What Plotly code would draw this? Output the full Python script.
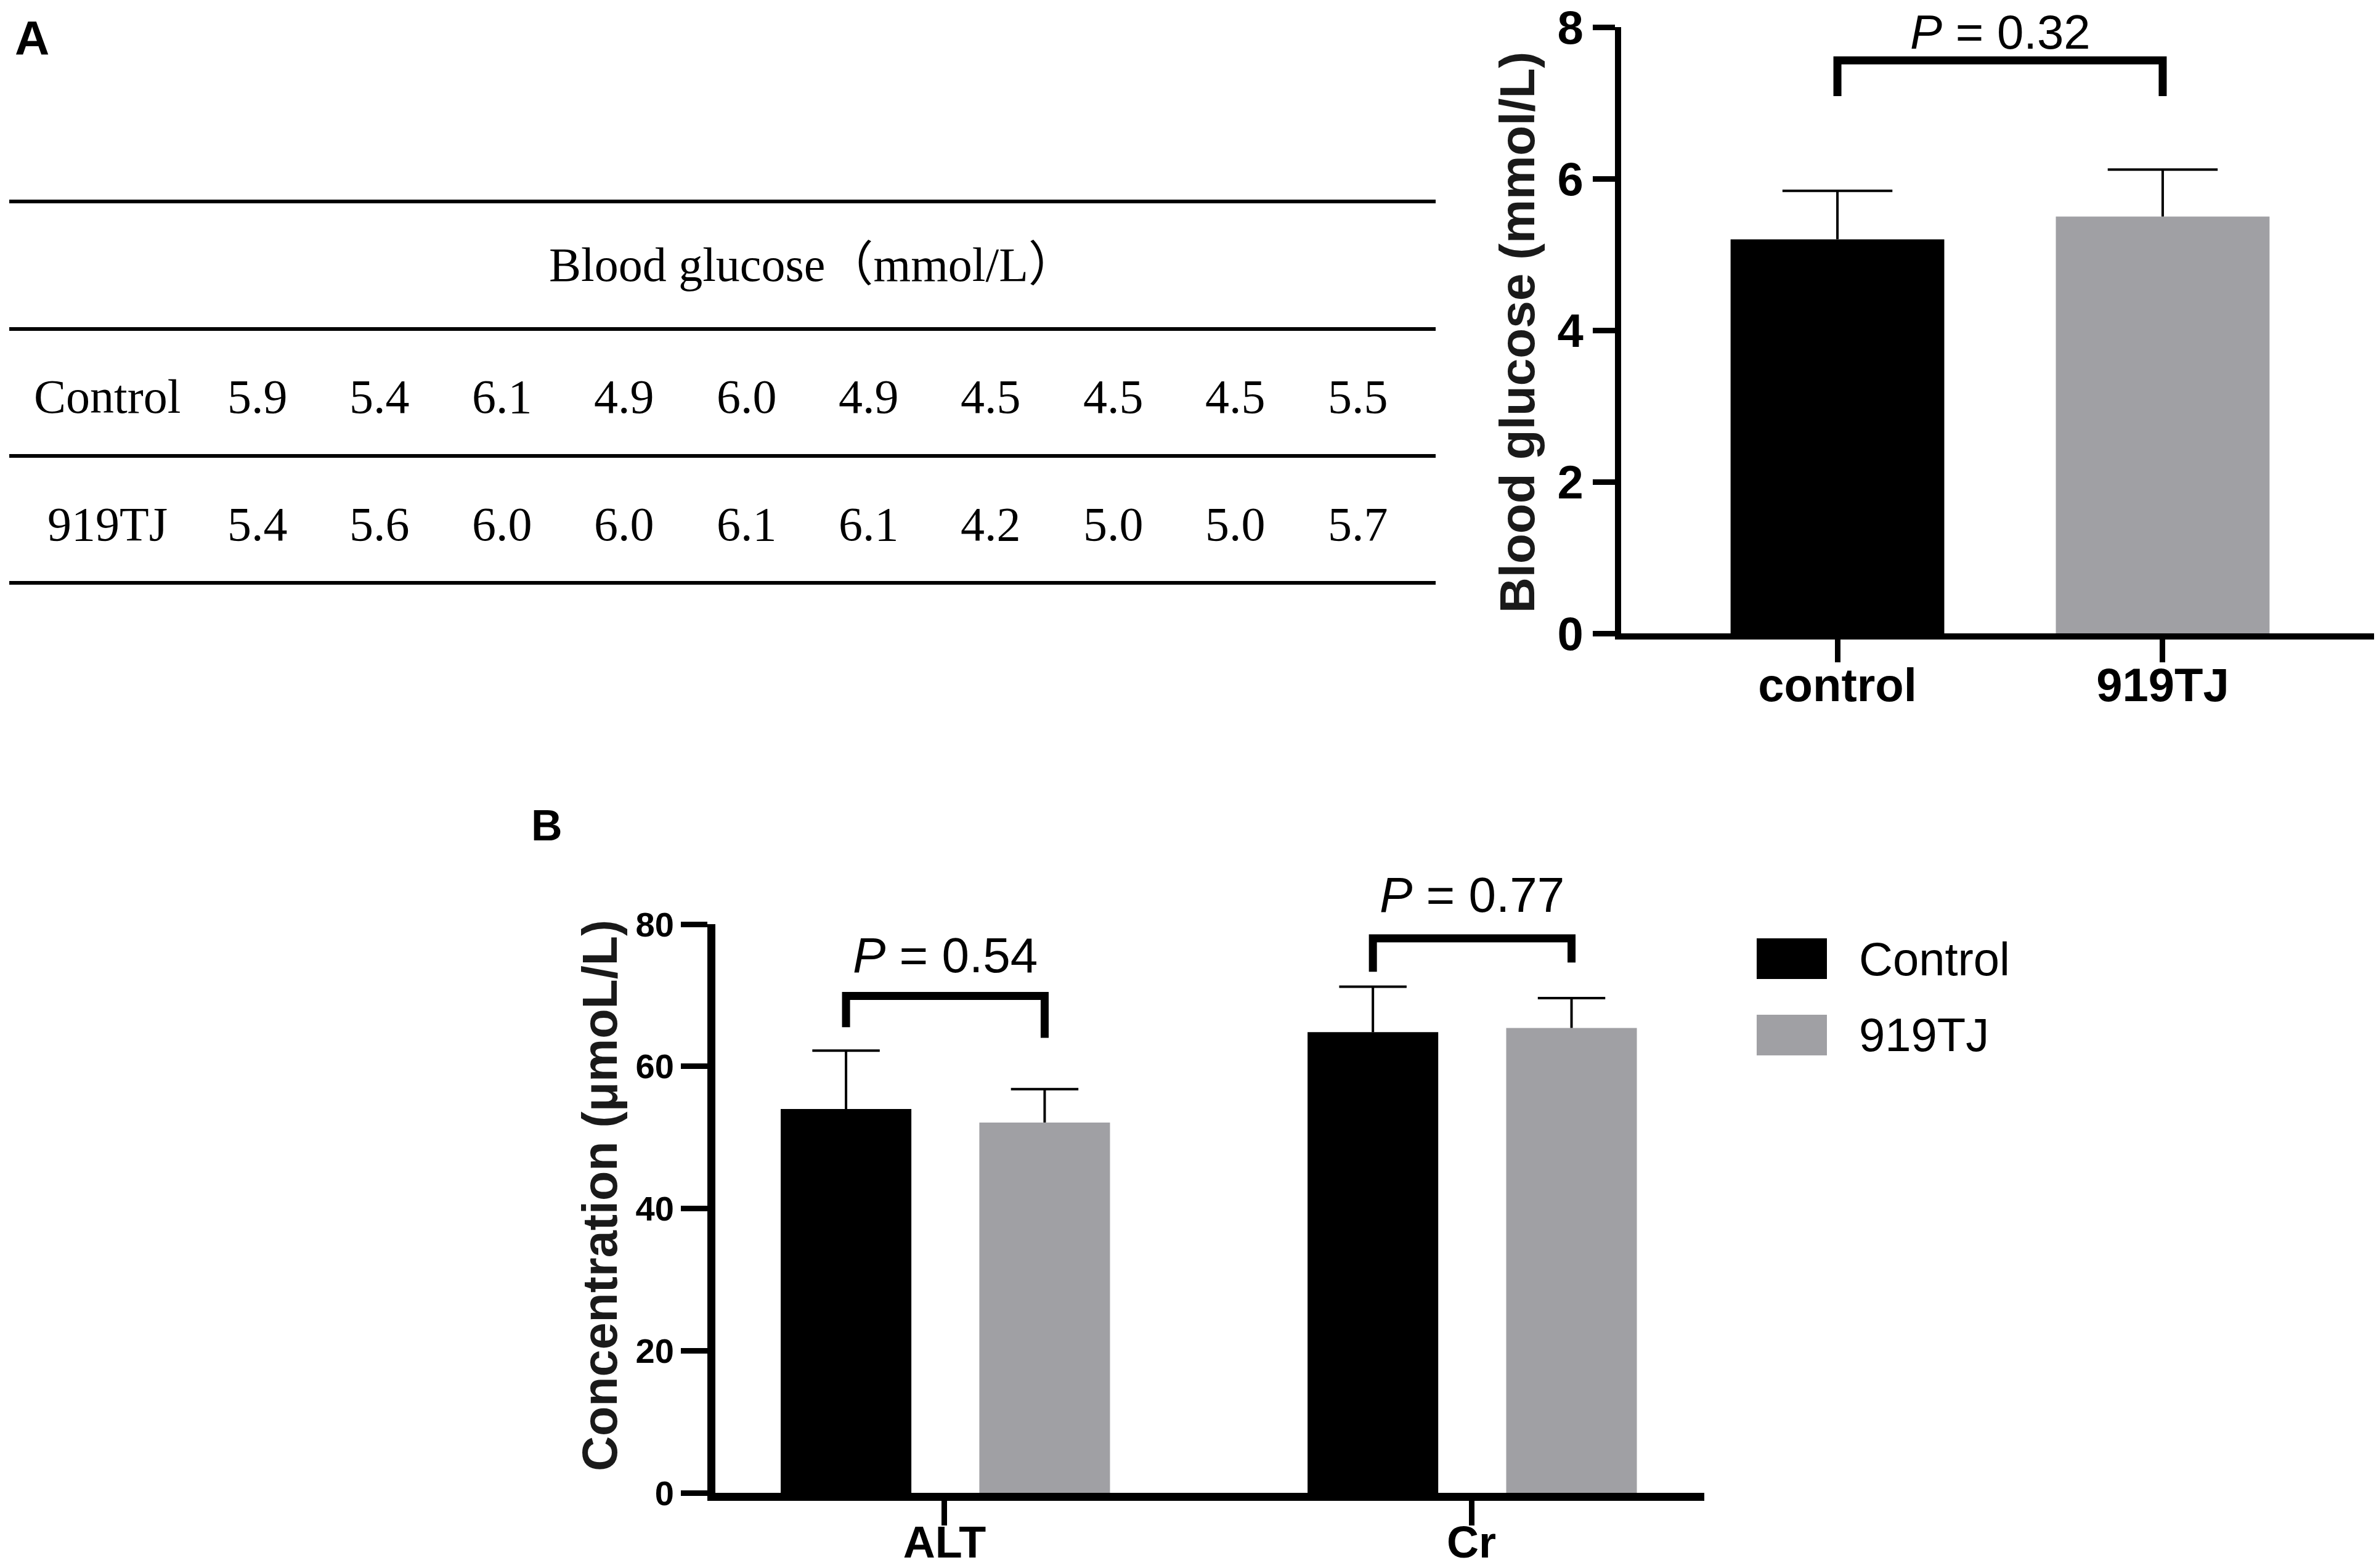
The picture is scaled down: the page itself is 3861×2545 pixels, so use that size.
import plotly.graph_objects as go

W, H = 3861, 2545

# panel A table
table_rows = ['Control', '919TJ']
control_glucose = [5.9, 5.4, 6.1, 4.9, 6.0, 4.9, 4.5, 4.5, 4.5, 5.5]
tj_glucose = [5.4, 5.6, 6.0, 6.0, 6.1, 6.1, 4.2, 5.0, 5.0, 5.7]
table_header = 'Blood glucose\uff08mmol/L\uff09'

# panel A bars
glucose_groups = ['control', '919TJ']
glucose_mean = [5.2, 5.5]
glucose_sd = [0.64, 0.62]
glucose_p = '0.32'

# panel B bars
markers = ['ALT', 'Cr']
control_conc = [54.0, 64.8]
control_sd = [8.2, 6.4]
tj_conc = [52.1, 65.4]
tj_sd = [4.7, 4.2]
marker_p = ['0.54', '0.77']

BLACK = '#000000'
GREY = '#a0a0a4'
SANS = 'Liberation Sans, Arial, sans-serif'
SERIF = 'Liberation Serif, Noto Sans CJK SC, serif'


def px(x):
    return x / W


def py(y):
    return 1 - y / H


def err_lines(xs, means, sds, cap):
    ex, ey = [], []
    for x, m, s in zip(xs, means, sds):
        ex += [x, x, None, x - cap, x + cap, None]
        ey += [m, m + s, None, m + s, m + s, None]
    return ex, ey


def bracket(x0, x1, y, y0, y1):
    return [x0, x0, x1, x1], [y0, y, y, y1]


fig = go.Figure()

# ---- panel A chart ----
pos_a = list(range(len(glucose_groups)))
fig.add_trace(go.Bar(
    x=pos_a, y=glucose_mean, width=0.657,
    marker=dict(color=[BLACK, GREY], line_width=0),
    xaxis='x', yaxis='y', showlegend=False
))
ex, ey = err_lines(pos_a, glucose_mean, glucose_sd, 0.169)
fig.add_trace(go.Scatter(x=ex, y=ey, mode='lines', line=dict(color=BLACK, width=4),
                         xaxis='x', yaxis='y', showlegend=False))
bx, by = bracket(pos_a[0], pos_a[1], 7.56, 7.09, 7.09)
fig.add_trace(go.Scatter(x=bx, y=by, mode='lines', line=dict(color=BLACK, width=13),
                         xaxis='x', yaxis='y', showlegend=False))

# ---- panel B chart ----
pos_b = list(range(len(markers)))
off_c, off_t, bw = -0.187, 0.19, 0.248
fig.add_trace(go.Bar(
    x=pos_b, y=control_conc, width=bw, offset=off_c - bw / 2,
    marker=dict(color=BLACK, line_width=0), name='Control',
    xaxis='x2', yaxis='y2', showlegend=False
))
fig.add_trace(go.Bar(
    x=pos_b, y=tj_conc, width=bw, offset=off_t - bw / 2,
    marker=dict(color=GREY, line_width=0), name='919TJ',
    xaxis='x2', yaxis='y2', showlegend=False
))
xc = [p + off_c for p in pos_b]
xt = [p + off_t for p in pos_b]
ex1, ey1 = err_lines(xc, control_conc, control_sd, 0.064)
ex2, ey2 = err_lines(xt, tj_conc, tj_sd, 0.064)
fig.add_trace(go.Scatter(x=ex1 + ex2, y=ey1 + ey2, mode='lines',
                         line=dict(color=BLACK, width=4),
                         xaxis='x2', yaxis='y2', showlegend=False))
# bracket levels: (top, left end, right end)
b_levels = [(69.9, 65.5, 64.0), (78.0, 73.3, 74.6)]
for i, (top, l, r) in enumerate(b_levels):
    bx, by = bracket(xc[i], xt[i], top, l, r)
    fig.add_trace(go.Scatter(x=bx, y=by, mode='lines', line=dict(color=BLACK, width=13),
                             xaxis='x2', yaxis='y2', showlegend=False))

axis_common = dict(showline=True, linecolor=BLACK, ticks='outside', tickcolor=BLACK,
                   showgrid=False, zeroline=False, fixedrange=True, automargin=False,
                   ticklabeloverflow='allow')

fig.update_layout(
    width=W, height=H,
    margin=dict(l=0, r=0, t=0, b=0, pad=0, autoexpand=False),
    paper_bgcolor='white', plot_bgcolor='white',
    barmode='overlay',
    showlegend=False,
    xaxis=dict(domain=[px(2623), px(3853)], range=[-0.665, 1.665],
               tickvals=pos_a, ticktext=glucose_groups, linewidth=10,
               ticklen=37, tickwidth=9, anchor='y', ticklabelstandoff=-28,
               tickfont=dict(family=SANS, size=76, weight='bold', color=BLACK),
               **axis_common),
    yaxis=dict(domain=[py(1020), py(36)], range=[0, 8], tick0=0, dtick=2,
               linewidth=10, ticklen=36, tickwidth=9, anchor='x',
               tickfont=dict(family=SANS, size=76, weight='bold', color=BLACK),
               **axis_common),
    xaxis2=dict(domain=[px(1153), px(2758)], range=[-0.435, 1.442],
                tickvals=pos_b, ticktext=markers, linewidth=13,
                ticklen=40, tickwidth=9, anchor='y2', ticklabelstandoff=-34,
                tickfont=dict(family=SANS, size=72, weight='bold', color=BLACK),
                **axis_common),
    yaxis2=dict(domain=[py(2415), py(1492)], range=[0, 80], tick0=0, dtick=20,
                linewidth=13, ticklen=43, tickwidth=9, anchor='x2',
                tickfont=dict(family=SANS, size=56, weight='bold', color=BLACK),
                **axis_common),
)

ann = []
shapes = []

# panel letters
ann.append(dict(x=px(44), y=py(54), text='<b>A</b>', font=dict(family=SANS, size=78, color=BLACK)))
ann.append(dict(x=px(879), y=py(1332), text='<b>B</b>', font=dict(family=SANS, size=70, color=BLACK)))

# table rules
for yy in [319, 526, 732, 938]:
    shapes.append(dict(type='line', xref='paper', yref='paper', x0=px(7), x1=px(2322),
                       y0=py(yy), y1=py(yy), line=dict(color=BLACK, width=6)))
ann.append(dict(x=px(1311), y=py(421), text=table_header,
                font=dict(family=SERIF, size=78, color=BLACK)))
for row_y, label, vals in [(635, table_rows[0], control_glucose), (842, table_rows[1], tj_glucose)]:
    ann.append(dict(x=px(166), y=py(row_y), text=label, font=dict(family=SERIF, size=78, color=BLACK)))
    for i, v in enumerate(vals):
        ann.append(dict(x=px(410 + 198.4 * i), y=py(row_y), text=f'{v:.1f}',
                        font=dict(family=SERIF, size=78, color=BLACK)))

# axis titles
ann.append(dict(x=px(2454), y=py(532), text='<b>Blood glucose (mmol/L)</b>', textangle=-90,
                font=dict(family=SANS, size=80, color='#1a1a1a')))
ann.append(dict(x=px(965), y=py(1933), text='<b>Concentration (\u03bcmoL/L)</b>', textangle=-90,
                font=dict(family=SANS, size=79, color='#1a1a1a')))

# p values (y in paper so labels above the axis range still show)
ann.append(dict(xref='x', x=0.5, y=py(44), text=f'<i>P</i> = {glucose_p}',
                font=dict(family=SANS, size=78, color=BLACK)))
for i, (p, ty) in enumerate(zip(marker_p, [1542, 1445])):
    ann.append(dict(xref='x2', x=(xc[i] + xt[i]) / 2, y=py(ty),
                    text=f'<i>P</i> = {p}', font=dict(family=SANS, size=80, color=BLACK)))

# legend
for name, col, yy in [('Control', BLACK, 1548), ('919TJ', GREY, 1672)]:
    shapes.append(dict(type='rect', xref='paper', yref='paper', x0=px(2843), x1=px(2957),
                       y0=py(yy - 33), y1=py(yy + 33), fillcolor=col, line_width=0))
    ann.append(dict(x=px(3007), y=py(yy), text=name, xanchor='left',
                    font=dict(family=SANS, size=76, color=BLACK)))

for a in ann:
    a.setdefault('xref', 'paper')
    a.setdefault('yref', 'paper')
    a.setdefault('xanchor', 'center')
    a.setdefault('yanchor', 'middle')
    a['showarrow'] = False

fig.update_layout(annotations=ann, shapes=shapes)

fig.write_html('out.html')
